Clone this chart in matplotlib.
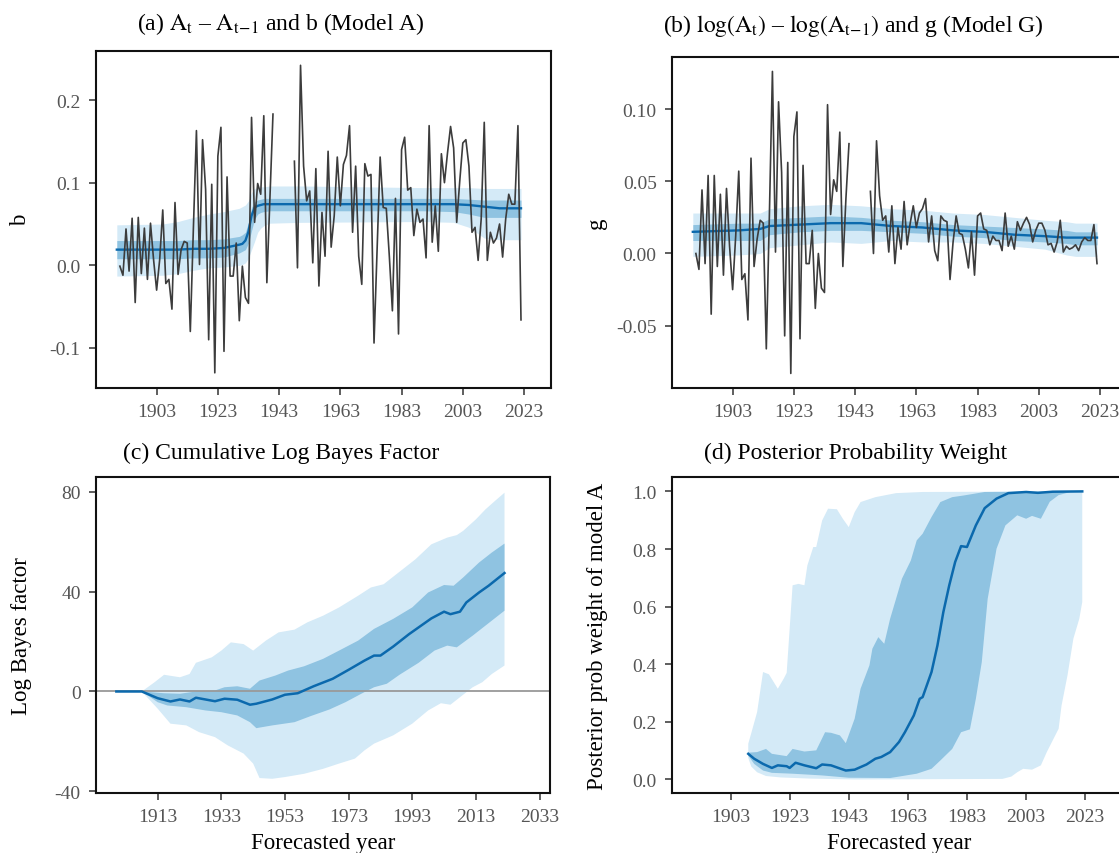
import numpy as np
import matplotlib
matplotlib.use('Agg')
import matplotlib.pyplot as plt

plt.rcParams['font.family'] = ['Liberation Serif', 'DejaVu Serif']
plt.rcParams['mathtext.fontset'] = 'stix'
plt.rcParams['axes.unicode_minus'] = False

# === Dati ===

# anni delle serie osservate (a), (b); 1942-1947 mancanti
years_obs = np.arange(1891, 2023)

diff_a_1 = [-0.001, -0.012, 0.044, -0.007, 0.057, -0.045, 0.058, -0.010, 0.045, -0.017,
            0.051, 0.007, -0.030, 0.007, 0.067, -0.022, -0.017, -0.053, 0.076, -0.011,
            0.019, 0.029, 0.027, -0.080, 0.044, 0.163, 0.001, 0.152, 0.092, -0.090,
            0.098, -0.130, 0.132, 0.167, -0.104, 0.107, -0.013, -0.013, 0.027, -0.067,
            -0.001, -0.039, -0.046, 0.179, 0.052, 0.099, 0.086, 0.181, -0.021, 0.080,
            0.183]
diff_a_2 = [0.126, -0.003, 0.242, 0.120, 0.078, 0.090, 0.003, 0.117, -0.025,
            0.064, 0.011, 0.138, 0.022, 0.060, 0.131, 0.072, 0.122, 0.133, 0.169,
            0.040, 0.120, 0.011, -0.023, 0.123, 0.108, 0.110, -0.094, 0.020, 0.131,
            0.070, 0.069, 0.011, -0.055, 0.081, -0.083, 0.140, 0.155, 0.091, 0.094,
            0.036, 0.068, 0.052, 0.056, 0.009, 0.169, 0.028, 0.072, 0.017, 0.135,
            0.100, 0.136, 0.168, 0.142, 0.052, 0.102, 0.148, 0.152, 0.120, 0.040,
            0.046, 0.006, 0.056, 0.173, 0.006, 0.040, 0.027, 0.033, 0.050, 0.010,
            0.056, 0.086, 0.074, 0.074, 0.169, -0.066]

diff_g_1 = [0.000, -0.011, 0.044, -0.007, 0.054, -0.042, 0.054, -0.009, 0.041, -0.015,
            0.045, 0.005, -0.025, 0.012, 0.057, -0.018, -0.014, -0.046, 0.066, -0.009,
            0.010, 0.023, 0.021, -0.066, 0.026, 0.126, 0.001, 0.105, 0.056, -0.057,
            0.063, -0.083, 0.081, 0.098, -0.059, 0.061, -0.007, -0.007, 0.016, -0.038,
            0.000, -0.024, -0.027, 0.103, 0.027, 0.051, 0.043, 0.084, -0.009, 0.038,
            0.076]
diff_g_2 = [0.043, 0.000, 0.078, 0.040, 0.023, 0.026, 0.001, 0.033, -0.007,
            0.018, 0.003, 0.036, 0.006, 0.021, 0.033, 0.018, 0.028, 0.031, 0.038,
            0.008, 0.026, 0.002, -0.005, 0.026, 0.023, 0.022, -0.018, 0.008, 0.026,
            0.014, 0.013, 0.003, -0.010, 0.015, -0.015, 0.026, 0.028, 0.017, 0.016,
            0.006, 0.012, 0.009, 0.009, 0.002, 0.028, 0.005, 0.012, 0.003, 0.022,
            0.016, 0.021, 0.025, 0.020, 0.008, 0.016, 0.021, 0.021, 0.016, 0.006,
            0.007, 0.001, 0.008, 0.023, 0.001, 0.005, 0.003, 0.004, 0.006, 0.002,
            0.008, 0.011, 0.009, 0.009, 0.020, -0.007]

gap = [np.nan] * 6
diff_a = np.array(diff_a_1 + gap + diff_a_2)
diff_g = np.array(diff_g_1 + gap + diff_g_2)

# bande posteriori di b (modello A)
b_yr = [1890, 1905, 1910, 1915, 1920, 1925, 1930, 1931, 1932, 1933, 1934, 1935, 1936, 1937,
        1938, 1940, 1950, 1990, 2000, 2005, 2010, 2015, 2022]
b_med = [0.019, 0.019, 0.019, 0.020, 0.020, 0.021, 0.025, 0.026, 0.030, 0.041, 0.060, 0.070,
         0.072, 0.073, 0.074, 0.074, 0.074, 0.074, 0.074, 0.073, 0.071, 0.069, 0.069]
b_in_hi = [0.030, 0.030, 0.030, 0.031, 0.031, 0.032, 0.035, 0.037, 0.040, 0.052, 0.070, 0.077,
           0.079, 0.080, 0.081, 0.081, 0.081, 0.081, 0.081, 0.080, 0.079, 0.079, 0.079]
b_in_lo = [0.008, 0.008, 0.008, 0.009, 0.009, 0.010, 0.015, 0.017, 0.019, 0.027, 0.042, 0.056,
           0.062, 0.064, 0.065, 0.066, 0.066, 0.066, 0.065, 0.062, 0.058, 0.058, 0.058]
b_out_hi = [0.049, 0.050, 0.053, 0.058, 0.062, 0.065, 0.069, 0.071, 0.073, 0.078, 0.088, 0.093,
            0.094, 0.095, 0.095, 0.096, 0.096, 0.094, 0.094, 0.094, 0.093, 0.093, 0.093]
b_out_lo = [-0.013, -0.012, -0.010, -0.006, -0.003, -0.002, 0.000, 0.001, 0.003, 0.009, 0.019,
            0.029, 0.040, 0.045, 0.048, 0.051, 0.052, 0.053, 0.052, 0.046, 0.033, 0.031, 0.031]

# bande posteriori di g (modello G)
g_yr = [1890, 1905, 1912, 1915, 1925, 1935, 1945, 1955, 1965, 1975, 1985, 1995, 2005, 2012, 2015, 2022]
g_med = [0.015, 0.016, 0.017, 0.019, 0.020, 0.021, 0.021, 0.019, 0.018, 0.016, 0.015, 0.013,
         0.012, 0.011, 0.011, 0.011]
g_in_hi = [0.020, 0.021, 0.021, 0.024, 0.025, 0.026, 0.025, 0.023, 0.022, 0.020, 0.019, 0.018,
           0.017, 0.016, 0.015, 0.015]
g_in_lo = [0.009, 0.009, 0.009, 0.013, 0.015, 0.016, 0.016, 0.015, 0.014, 0.012, 0.011, 0.009,
           0.008, 0.007, 0.006, 0.006]
g_out_hi = [0.028, 0.028, 0.028, 0.031, 0.033, 0.034, 0.033, 0.031, 0.030, 0.028, 0.027, 0.025,
            0.023, 0.022, 0.021, 0.021]
g_out_lo = [-0.002, -0.001, 0.000, 0.004, 0.006, 0.008, 0.007, 0.009, 0.008, 0.008, 0.007, 0.005,
            0.003, -0.001, -0.002, -0.002]

# (c) log Bayes factor cumulato
c_med_yr = [1900, 1908, 1913, 1917, 1920, 1923, 1925, 1931, 1934, 1938, 1942, 1944, 1949, 1953,
            1957, 1962, 1968, 1973, 1978, 1981, 1983, 1987, 1992, 1999, 2003, 2005, 2008, 2010,
            2014, 2017, 2022]
c_med = [0, 0, -2.7, -4.0, -3.2, -4.0, -2.5, -3.9, -2.9, -3.3, -5.3, -4.9, -3.2, -1.3, -0.7, 2.1,
         5.1, 8.7, 12.4, 14.4, 14.4, 18.0, 23.0, 29.3, 32.0, 31.0, 32.0, 35.7, 39.7, 42.4, 47.5]
c_out_hi_yr = [1908, 1912, 1915, 1920, 1923, 1925, 1930, 1933, 1936, 1940, 1943, 1947, 1951, 1956,
               1960, 1965, 1970, 1976, 1980, 1984, 1988, 1994, 1999, 2004, 2007, 2009, 2013, 2016,
               2019, 2022]
c_out_hi = [0, 3.7, 6.7, 5.7, 7.0, 11.5, 13.7, 16.4, 19.7, 19.0, 16.4, 20.4, 23.7, 24.8, 27.7, 30.4,
            33.7, 38.4, 41.7, 43.0, 47.0, 53.0, 59.0, 61.7, 62.7, 64.4, 69.0, 73.0, 76.4, 79.7]
c_out_lo_yr = [1908, 1913, 1917, 1922, 1926, 1931, 1935, 1940, 1943, 1945, 1949, 1953, 1959, 1965,
               1970, 1975, 1978, 1981, 1987, 1993, 1998, 2002, 2005, 2008, 2012, 2015, 2018, 2022]
c_out_lo = [0, -6.9, -12.9, -13.6, -16.3, -18.3, -21.6, -24.9, -28.9, -34.7, -35.0, -34.3, -33.0,
            -31.0, -28.9, -26.9, -23.6, -20.9, -17.6, -12.9, -7.6, -4.7, -5.3, -2.3, 1.7, 3.7, 7.0,
            10.4]
c_in_hi_yr = [1908, 1915, 1920, 1925, 1931, 1934, 1938, 1942, 1945, 1950, 1954, 1959, 1965, 1970,
              1976, 1981, 1987, 1993, 1998, 2003, 2006, 2009, 2014, 2018, 2022]
c_in_hi = [0, -0.7, -0.9, 0, 0.4, 1.7, 2.1, 1.1, 4.4, 6.4, 8.4, 10.1, 13.1, 16.4, 20.4, 25.1, 29.1,
           33.7, 39.7, 42.7, 42.4, 45.7, 51.7, 55.7, 59.3]
c_in_lo_yr = [1908, 1913, 1916, 1922, 1928, 1933, 1938, 1942, 1944, 1949, 1956, 1961, 1967, 1972,
              1977, 1981, 1985, 1989, 1995, 2000, 2004, 2007, 2012, 2016, 2022]
c_in_lo = [0, -4.3, -5.6, -6.3, -7.6, -8.3, -9.6, -12.3, -14.7, -13.6, -12.3, -9.9, -7.2, -4.3,
           -0.9, 1.7, 3.1, 6.7, 11.5, 16.4, 18.4, 17.7, 22.4, 26.4, 32.4]

# (d) peso di probabilita a posteriori del modello A
d_med_yr = [1909, 1911, 1914, 1917, 1919, 1922, 1923, 1925, 1928, 1932, 1934, 1937, 1942, 1945,
            1949, 1952, 1954, 1957, 1960, 1962, 1965, 1967, 1968, 1971, 1973, 1975, 1977, 1979,
            1981, 1983, 1986, 1989, 1993, 1997, 2003, 2007, 2012, 2022]
d_med = [0.089, 0.072, 0.054, 0.040, 0.049, 0.046, 0.040, 0.058, 0.049, 0.039, 0.052, 0.049,
         0.031, 0.034, 0.052, 0.072, 0.078, 0.095, 0.130, 0.164, 0.222, 0.280, 0.286, 0.373,
         0.465, 0.581, 0.674, 0.755, 0.810, 0.807, 0.882, 0.942, 0.975, 0.994, 0.998, 0.995,
         0.999, 1.0]
d_out_hi_yr = [1909, 1910, 1912, 1914, 1916, 1919, 1921, 1922, 1924, 1926, 1928, 1929, 1931, 1932,
               1934, 1936, 1939, 1941, 1943, 1945, 1947, 1952, 1959, 1968, 2022]
d_out_hi = [0.124, 0.160, 0.234, 0.373, 0.365, 0.315, 0.350, 0.370, 0.674, 0.679, 0.674, 0.743,
            0.807, 0.807, 0.899, 0.940, 0.938, 0.905, 0.876, 0.928, 0.963, 0.980, 0.994, 0.998,
            1.0]
d_out_lo_yr = [1909, 1910, 1912, 1915, 1920, 1930, 1945, 1995, 1998, 2000, 2002, 2005, 2008, 2010,
               2014, 2015, 2017, 2019, 2021, 2022]
d_out_lo = [0.075, 0.045, 0.025, 0.012, 0.007, 0.003, 0.000, 0.002, 0.010, 0.025, 0.037, 0.034,
            0.049, 0.095, 0.176, 0.257, 0.361, 0.489, 0.558, 0.616]
d_in_hi_yr = [1909, 1912, 1915, 1917, 1922, 1924, 1928, 1932, 1935, 1937, 1940, 1942, 1945, 1947,
              1950, 1951, 1953, 1955, 1957, 1959, 1961, 1964, 1966, 1968, 1971, 1974, 1978, 1982,
              1989, 2022]
d_in_hi = [0.093, 0.095, 0.106, 0.089, 0.081, 0.106, 0.097, 0.101, 0.164, 0.162, 0.153, 0.126,
           0.211, 0.315, 0.396, 0.454, 0.494, 0.471, 0.558, 0.627, 0.697, 0.760, 0.830, 0.853,
           0.911, 0.963, 0.980, 0.986, 0.998, 1.0]
d_in_lo_yr = [1909, 1911, 1914, 1917, 1924, 1934, 1943, 1957, 1966, 1971, 1974, 1978, 1981, 1984,
              1986, 1988, 1990, 1993, 1996, 2000, 2003, 2005, 2008, 2011, 2014, 2018, 2022]
d_in_lo = [0.083, 0.054, 0.031, 0.023, 0.020, 0.014, 0.006, 0.005, 0.020, 0.037, 0.066, 0.106,
           0.164, 0.174, 0.280, 0.407, 0.627, 0.801, 0.882, 0.917, 0.905, 0.915, 0.905, 0.964,
           0.987, 0.998, 1.0]

# tick
ticks_top = [1903, 1923, 1943, 1963, 1983, 2003, 2023]
ticks_c = [1913, 1933, 1953, 1973, 1993, 2013, 2033]
yt_a = [-0.1, 0.0, 0.1, 0.2]
yl_a = ['-0.1', '0.0', '0.1', '0.2']
yt_b = [-0.05, 0.0, 0.05, 0.10]
yl_b = ['-0.05', '0.00', '0.05', '0.10']
yt_c = [-40, 0, 40, 80]
yl_c = ['-40', '0', '40', '80']
yt_d = [0.0, 0.2, 0.4, 0.6, 0.8, 1.0]
yl_d = ['0.0', '0.2', '0.4', '0.6', '0.8', '1.0']

# === Stile ===
LIGHT = '#d4eaf7'
MID = '#8fc3e1'
DARK = '#0b69ad'
OBS = '#3c3c3c'

W, H = 1119, 854
fig = plt.figure(figsize=(W / 100, H / 100), dpi=100, facecolor='w')


def add_ax(left, top, width, height):
    return fig.add_axes([left / W, 1 - (top + height) / H, width / W, height / H])


def stile(ax):
    for s in ax.spines.values():
        s.set_linewidth(1.5)
        s.set_color('#111111')
    ax.tick_params(direction='out', length=5, width=1.1, color='#333333',
                   labelsize=14, labelcolor='#555555', pad=6)


def banda(ax, xh, yh, xl, yl, color):
    ax.fill(np.r_[xh, xl[::-1]], np.r_[yh, yl[::-1]], color=color, lw=0, zorder=1)


ax_a = add_ax(96, 52, 455, 337)
ax_b = add_ax(672, 58, 455, 331)
ax_c = add_ax(96, 478, 454, 316)
ax_d = add_ax(672, 478, 454, 316)

# (a)
by = np.array(b_yr)
ax_a.fill_between(by, b_out_lo, b_out_hi, color=LIGHT, lw=0, zorder=1)
ax_a.fill_between(by, b_in_lo, b_in_hi, color=MID, lw=0, zorder=2)
ax_a.plot(by, b_med, color=DARK, lw=1.7, zorder=3)
ax_a.plot(years_obs, diff_a, color=OBS, lw=1.2, zorder=4)
ax_a.set_xlim(1883.2, 2031.8)
ax_a.set_ylim(-0.1484, 0.2593)
ax_a.set_xticks(ticks_top)
ax_a.set_yticks(yt_a, yl_a)
ax_a.set_ylabel('b', fontsize=16.5)

# (b)
gy = np.array(g_yr)
ax_b.fill_between(gy, g_out_lo, g_out_hi, color=LIGHT, lw=0, zorder=1)
ax_b.fill_between(gy, g_in_lo, g_in_hi, color=MID, lw=0, zorder=2)
ax_b.plot(gy, g_med, color=DARK, lw=1.7, zorder=3)
ax_b.plot(years_obs, diff_g, color=OBS, lw=1.2, zorder=4)
ax_b.set_xlim(1883.2, 2031.8)
ax_b.set_ylim(-0.0931, 0.136)
ax_b.set_xticks(ticks_top)
ax_b.set_yticks(yt_b, yl_b)
ax_b.set_ylabel('g', fontsize=16.5)

# (c)
banda(ax_c, np.array(c_out_hi_yr), np.array(c_out_hi), np.array(c_out_lo_yr), np.array(c_out_lo), LIGHT)
banda(ax_c, np.array(c_in_hi_yr), np.array(c_in_hi), np.array(c_in_lo_yr), np.array(c_in_lo), MID)
ax_c.axhline(0, color='#999999', lw=1.3, zorder=2)
ax_c.plot(c_med_yr, c_med, color=DARK, lw=1.8, zorder=3)
ax_c.set_xlim(1893.6, 2036.3)
ax_c.set_ylim(-40.7, 86.0)
ax_c.set_xticks(ticks_c)
ax_c.set_yticks(yt_c, yl_c)
ax_c.set_ylabel('Log Bayes factor', fontsize=16.5)
ax_c.set_xlabel('Forecasted year', fontsize=16.5)

# (d)
banda(ax_d, np.array(d_out_hi_yr), np.array(d_out_hi), np.array(d_out_lo_yr), np.array(d_out_lo), LIGHT)
banda(ax_d, np.array(d_in_hi_yr), np.array(d_in_hi), np.array(d_in_lo_yr), np.array(d_in_lo), MID)
ax_d.plot(d_med_yr, d_med, color=DARK, lw=1.8, zorder=3)
ax_d.set_xlim(1883.2, 2036.8)
ax_d.set_ylim(-0.047, 1.05)
ax_d.set_xticks(ticks_top)
ax_d.set_yticks(yt_d, yl_d)
ax_d.set_ylabel('Posterior prob weight of model A', fontsize=16.5)
ax_d.set_xlabel('Forecasted year', fontsize=16.5)

for ax in (ax_a, ax_b, ax_c, ax_d):
    stile(ax)
    ax.yaxis.set_label_coords(-0.142, 0.5)
    ax.xaxis.set_label_coords(0.5, -0.125)

# Titoli dei pannelli
fig.text(281 / W, 1 - 24 / H, r'(a) $\mathrm{A_t}$ – $\mathrm{A_{t\!-\!1}}$ and b (Model A)',
         ha='center', va='center', fontsize=17)
fig.text(853 / W, 1 - 26 / H,
         r'(b) $\mathrm{log}\left(\mathrm{A_t}\right)$ – $\mathrm{log}\left(\mathrm{A_{t\!-\!1}}\right)$ and g (Model G)',
         ha='center', va='center', fontsize=17)
fig.text(281 / W, 1 - 453 / H, '(c) Cumulative Log Bayes Factor', ha='center', va='center', fontsize=17)
fig.text(856 / W, 1 - 453 / H, '(d) Posterior Probability Weight', ha='center', va='center', fontsize=17)

fig.savefig('out.png', dpi=100, facecolor='w')
